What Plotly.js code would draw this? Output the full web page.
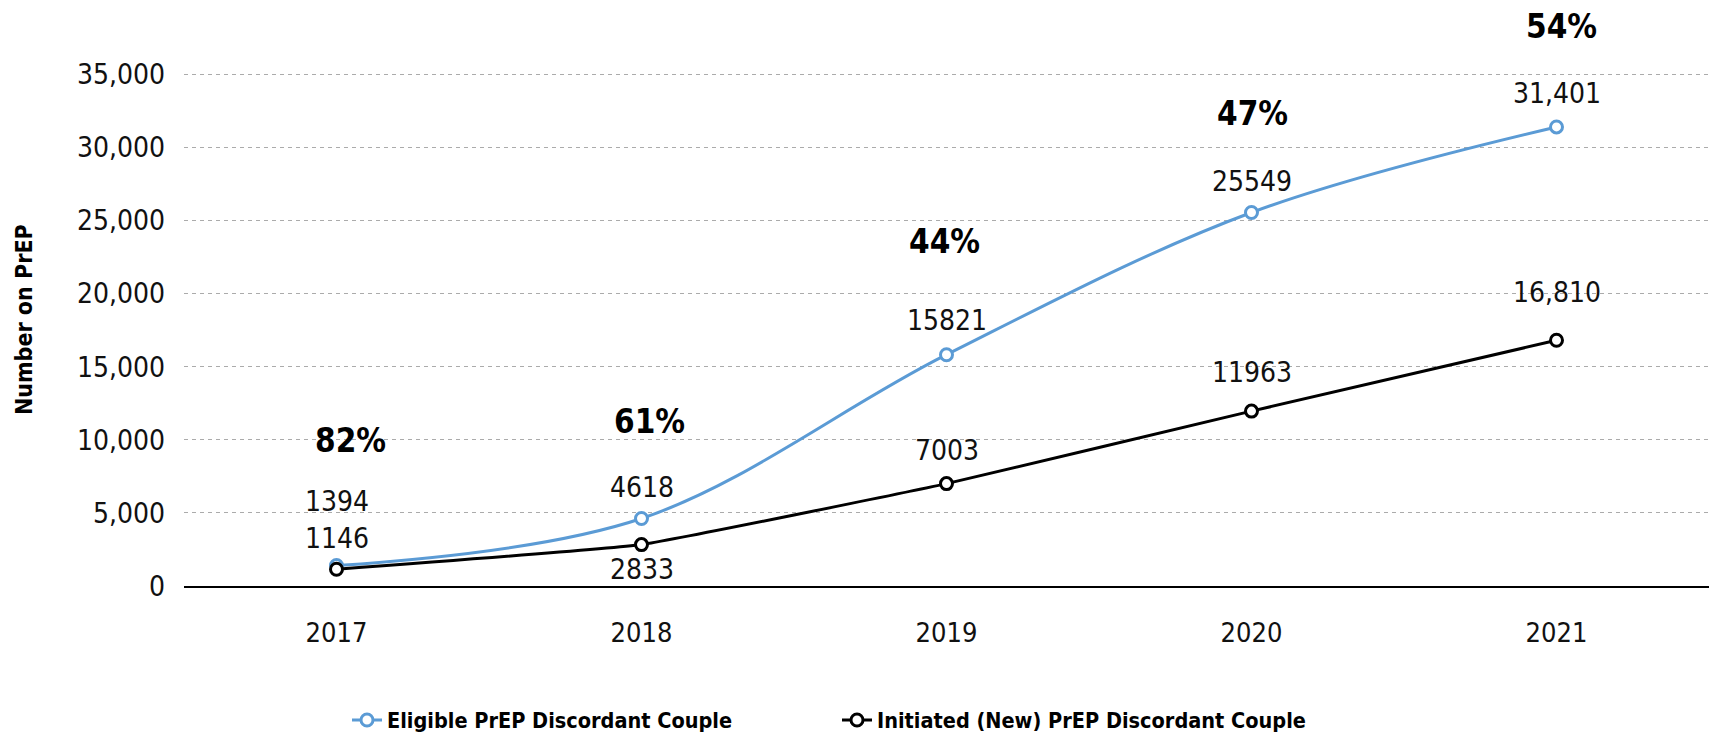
<!DOCTYPE html>
<html>
<head>
<meta charset="utf-8">
<script src="https://cdn.plot.ly/plotly-3.0.1.min.js"></script>
<style>html,body{margin:0;padding:0;background:#fff;}#chart{width:1711px;height:733px;}</style>
</head>
<body>
<div id="chart"></div>
<script>
// ---- data ----
const years = ['2017', '2018', '2019', '2020', '2021'];
const eligible = [1394, 4618, 15821, 25549, 31401];
const initiated = [1146, 2833, 7003, 11963, 16810];
const eligibleLabels = ['1394', '4618', '15821', '25549', '31,401'];
const initiatedLabels = ['1146', '2833', '7003', '11963', '16,810'];
const seriesNames = ['Eligible PrEP Discordant Couple', 'Initiated (New) PrEP Discordant Couple'];
const yTickVals = [0, 5000, 10000, 15000, 20000, 25000, 30000, 35000];
const yTitle = 'Number on PrEP';

// ---- style ----
const FONT = '"DejaVu Sans Condensed", "DejaVu Sans", sans-serif';
const BLUE = '#5B9BD5';
const eligShift = [64, 31, 34, 31, 33];
const initShift = [31, -25, 33, 39, 48];
const pctShift = [125, 97, 113, 99, 100];
const pctX = [14, 8, -2, 1, 5];

function f(size, color, bold) {
  return {family: FONT, size: size, color: color, weight: bold ? 'bold' : 'normal', stretch: 'condensed'};
}

const W = 1711, H = 733, ML = 184, MR = 2, MT = 10, MB = 147;
const plotW = W - ML - MR, plotH = H - MT - MB;
const px2x = p => (p - ML) / plotW;
const px2y = p => (H - MB - p) / plotH;

const traces = [
  {
    x: years, y: eligible, name: seriesNames[0], type: 'scatter', mode: 'lines+markers',
    line: {color: BLUE, width: 3, shape: 'spline', smoothing: 1},
    marker: {symbol: 'circle', size: 12, color: '#ffffff', line: {color: BLUE, width: 3}},
    hoverinfo: 'skip', legend: 'legend'
  },
  {
    x: years, y: initiated, name: seriesNames[1], type: 'scatter', mode: 'lines+markers',
    line: {color: '#000000', width: 3, shape: 'spline', smoothing: 0.3},
    marker: {symbol: 'circle', size: 12, color: '#ffffff', line: {color: '#000000', width: 3}},
    hoverinfo: 'skip', legend: 'legend2'
  }
];

const annotations = [];
years.forEach((yr, i) => {
  annotations.push({xref: 'x', yref: 'y', x: i, y: eligible[i], text: eligibleLabels[i], showarrow: false,
    yshift: eligShift[i], font: f(28, '#111', false)});
  annotations.push({xref: 'x', yref: 'y', x: i, y: initiated[i], text: initiatedLabels[i], showarrow: false,
    yshift: initShift[i], font: f(28, '#111', false)});
  const pct = Math.round(initiated[i] / eligible[i] * 100) + '%';
  annotations.push({xref: 'x', yref: 'y', x: i, y: eligible[i], text: pct, showarrow: false,
    yshift: pctShift[i], xshift: pctX[i], font: f(33, '#000', true)});
});
annotations.push({xref: 'paper', yref: 'paper', x: px2x(24), y: px2y(320), xanchor: 'center', yanchor: 'middle',
  text: yTitle, textangle: -90, showarrow: false, font: f(23, '#000', true)});

const legendCommon = {orientation: 'h', xanchor: 'left', yanchor: 'middle', y: px2y(720),
  font: f(21.5, '#000', true), bgcolor: 'rgba(0,0,0,0)', borderwidth: 0};

const layout = {
  width: W, height: H,
  margin: {l: ML, r: MR, t: MT, b: MB, pad: 0, autoexpand: false},
  paper_bgcolor: '#ffffff', plot_bgcolor: '#ffffff',
  font: f(24, '#111', false),
  showlegend: true,
  legend: Object.assign({}, legendCommon, {x: px2x(347)}),
  legend2: Object.assign({}, legendCommon, {x: px2x(837)}),
  xaxis: {
    type: 'category', range: [-0.5, 4.5], showgrid: false, zeroline: false,
    showline: true, linecolor: '#000', linewidth: 1.5, ticks: '',
    tickfont: f(27, '#111', false), ticklabelstandoff: 22,
    fixedrange: true, automargin: false
  },
  yaxis: {
    range: [0, 39400], tickvals: yTickVals, tickformat: ',d',
    showgrid: true, gridcolor: '#ababab', gridwidth: 1, griddash: '4px,4px',
    zeroline: false, showline: false, ticks: '',
    tickfont: f(28, '#111', false), ticklabelstandoff: 18,
    fixedrange: true, automargin: false
  },
  annotations: annotations
};

Plotly.newPlot('chart', traces, layout, {displayModeBar: false, staticPlot: true});
</script>
</body>
</html>
